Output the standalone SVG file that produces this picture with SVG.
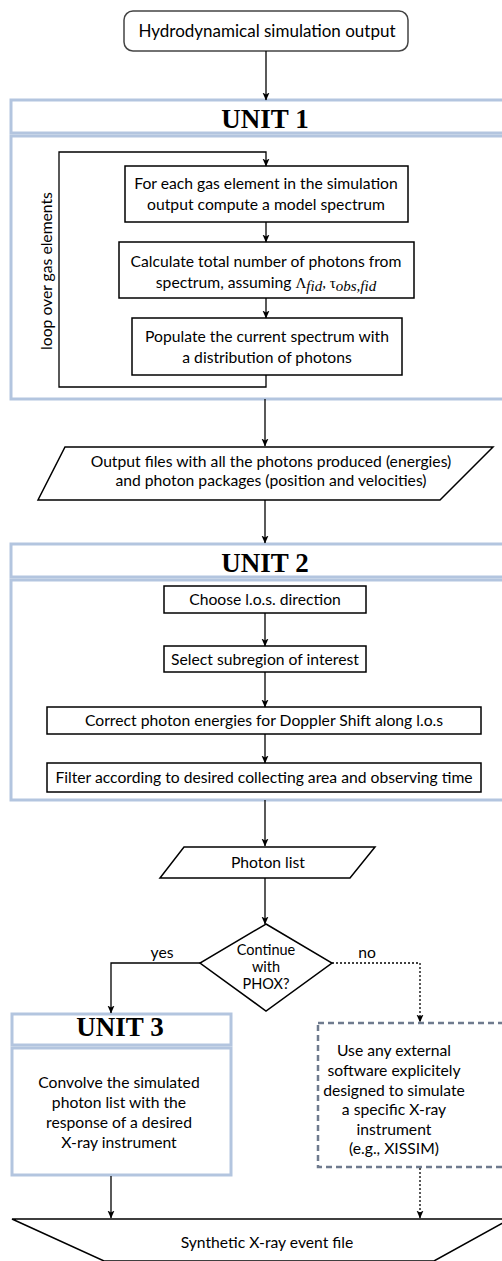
<svg xmlns="http://www.w3.org/2000/svg" width="502" height="1261" viewBox="0 0 502 1261">
<style>
.t{font-family:Lato,"Open Sans","DejaVu Sans",sans-serif;font-size:15.7px;fill:#000;text-anchor:middle}
.h{font-family:"Liberation Serif","Times New Roman",serif;font-size:27px;font-weight:bold;fill:#000;text-anchor:middle}
.m{font-family:"Liberation Serif","Times New Roman",serif;font-size:15px;fill:#000}
.box{fill:#fff;stroke:#000;stroke-width:1.5}
.unit{fill:none;stroke:#b3c5df;stroke-width:3}
.c{fill:none;stroke:#000;stroke-width:1.3}
.d{fill:none;stroke:#000;stroke-width:1.3;stroke-dasharray:2 2}
</style>
<defs>
<marker id="a" viewBox="0 0 8 8" refX="7.5" refY="4" markerWidth="8" markerHeight="8" markerUnits="userSpaceOnUse" orient="auto">
<path d="M0,0.5 L8,4 L0,7.5 L2,4 Z" fill="#000"/>
</marker>
</defs>

<g id="n-start">
<rect x="124" y="11" width="284" height="40" rx="9" fill="#fff" stroke="#444" stroke-width="1.5"/>
<text class="t" x="267" y="37" style="font-size:17px">Hydrodynamical simulation output</text>
</g>

<g id="unit1">
<rect class="unit" x="11" y="100" width="495" height="33"/>
<rect class="unit" x="11" y="136" width="495" height="263"/>
<text class="h" x="265" y="128">UNIT 1</text>
</g>

<g id="n-loop-label">
<text class="t" transform="translate(52,271) rotate(-90)">loop over gas elements</text>
</g>

<g id="n-b1">
<rect class="box" x="125" y="166" width="283" height="56"/>
<text class="t" x="266" y="189">For each gas element in the simulation</text>
<text class="t" x="266" y="210">output compute a model spectrum</text>
</g>

<g id="n-b2">
<rect class="box" x="119" y="242" width="295" height="56"/>
<text class="t" x="266" y="267">Calculate total number of photons from</text>
<text class="t" x="266" y="288"><tspan>spectrum, assuming </tspan><tspan class="m">Λ</tspan><tspan class="m" font-style="italic" font-size="10" dy="3">fid</tspan><tspan class="m" dy="-3">, τ</tspan><tspan class="m" font-style="italic" font-size="10" dy="3">obs,fid</tspan></text>
</g>

<g id="n-b3">
<rect class="box" x="132" y="318" width="270" height="57"/>
<text class="t" x="267" y="342">Populate the current spectrum with</text>
<text class="t" x="267" y="363">a distribution of photons</text>
</g>

<g id="n-out">
<polygon class="box" points="65,447 493,447 440,500 38,500"/>
<text class="t" x="271" y="467">Output files with all the photons produced (energies)</text>
<text class="t" x="271" y="486">and photon packages (position and velocities)</text>
</g>

<g id="unit2">
<rect class="unit" x="11" y="544" width="495" height="33"/>
<rect class="unit" x="11" y="580" width="495" height="220"/>
<text class="h" x="265" y="572">UNIT 2</text>
</g>

<g id="n-los">
<rect class="box" x="164" y="586" width="202" height="27"/>
<text class="t" x="265" y="605">Choose l.o.s.  direction</text>
</g>

<g id="n-sub">
<rect class="box" x="164" y="646" width="202" height="26"/>
<text class="t" x="265" y="665">Select subregion of interest</text>
</g>

<g id="n-dop">
<rect class="box" x="47" y="707" width="434" height="27"/>
<text class="t" x="264" y="726">Correct photon energies for Doppler Shift along l.o.s</text>
</g>

<g id="n-filt">
<rect class="box" x="47" y="763" width="434" height="29"/>
<text class="t" x="264" y="783">Filter according to desired collecting area and observing time</text>
</g>

<g id="n-plist">
<polygon class="box" points="184,847 375,847 350,878 160,878"/>
<text class="t" x="268" y="868">Photon list</text>
</g>

<g id="n-dec">
<polygon class="box" points="266,924 332,963 266,1011 200,963"/>
<text class="t" x="266" y="955" style="font-size:14.5px">Continue</text>
<text class="t" x="266" y="972" style="font-size:14.5px">with</text>
<text class="t" x="266" y="989" style="font-size:14.5px">PHOX?</text>
</g>

<g id="unit3">
<rect class="unit" x="12" y="1014" width="219" height="31"/>
<rect class="unit" x="12" y="1048" width="219" height="127"/>
<text class="h" x="120" y="1036">UNIT 3</text>
<text class="t" x="119" y="1088">Convolve the simulated</text>
<text class="t" x="119" y="1108">photon list with the</text>
<text class="t" x="119" y="1128">response of a desired</text>
<text class="t" x="119" y="1148">X-ray instrument</text>
</g>

<g id="n-ext">
<rect x="318" y="1023" width="190" height="144" fill="none" stroke="#6f7b8e" stroke-width="2.5" stroke-dasharray="6 4"/>
<text class="t" x="394" y="1056">Use any external</text>
<text class="t" x="394" y="1076">software explicitely</text>
<text class="t" x="394" y="1096">designed to simulate</text>
<text class="t" x="394" y="1115">a specific X-ray</text>
<text class="t" x="394" y="1135">instrument</text>
<text class="t" x="394" y="1154">(e.g., XISSIM)</text>
</g>

<g id="n-event">
<polygon points="12,1219 510,1219 434,1261 104,1261" fill="#fff" stroke="#000" stroke-width="1.5"/>
<text class="t" x="267" y="1248">Synthetic X-ray event file</text>
</g>

<g id="connectors">
<path class="c" d="M266,51 V100" marker-end="url(#a)"/>
<path class="c" d="M266,375 V387 H59 V152 H266 V166" marker-end="url(#a)"/>
<path class="c" d="M266,222 V242" marker-end="url(#a)"/>
<path class="c" d="M266,298 V318" marker-end="url(#a)"/>
<path class="c" d="M265,399 V446" marker-end="url(#a)"/>
<path class="c" d="M265,500 V543" marker-end="url(#a)"/>
<path class="c" d="M265,613 V646" marker-end="url(#a)"/>
<path class="c" d="M265,672 V707" marker-end="url(#a)"/>
<path class="c" d="M265,734 V763" marker-end="url(#a)"/>
<path class="c" d="M265,800 V846" marker-end="url(#a)"/>
<path class="c" d="M265,878 V924" marker-end="url(#a)"/>
<path class="c" d="M200,963 H111 V1013" marker-end="url(#a)"/>
<path class="d" d="M332,963 H420 V1022" marker-end="url(#a)"/>
<path class="c" d="M111,1176 V1218" marker-end="url(#a)"/>
<path class="d" d="M420,1168 V1218" marker-end="url(#a)"/>
<text class="t" x="162" y="958">yes</text>
<text class="t" x="367" y="958">no</text>
</g>
</svg>
